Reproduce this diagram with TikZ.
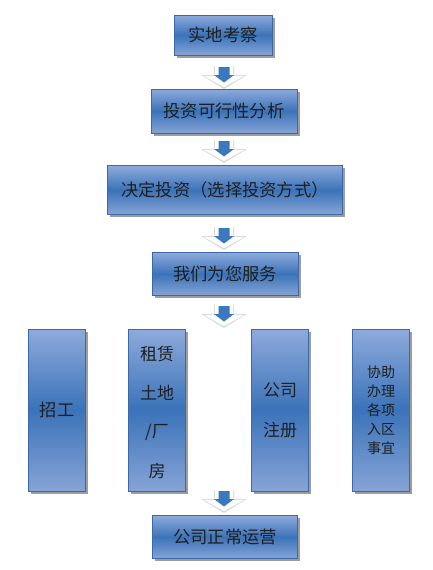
\documentclass[tikz,border=0pt]{standalone}
\usepackage{fontspec}
\setmainfont{Noto Sans CJK SC}
\usetikzlibrary{shadows}
\definecolor{boxtop}{HTML}{8EAADC}
\definecolor{boxmid}{HTML}{3B73B9}
\definecolor{boxbot}{HTML}{86A4D6}
\definecolor{boxline}{HTML}{3A68A8}
\definecolor{arrblue}{HTML}{3A78C0}
\definecolor{arrgray}{HTML}{C8CCD2}
\tikzset{
  flowbox/.style={draw=boxline, line width=0.8pt, top color=boxtop, bottom color=boxbot, middle color=boxmid,
    drop shadow={shadow xshift=2.5pt, shadow yshift=-2.5pt, opacity=0.55, fill=black!70},
    inner sep=0pt, font=\fontsize{17.3}{19}\selectfont, text=black!88},
  tallbox/.style={flowbox, minimum width=57pt, minimum height=162pt, align=center},
  talltext/.style={font=\fontsize{17}{19}\selectfont, text=black!88},
}
\newcommand{\downarr}[2]{%
  \begin{scope}[shift={(#1,#2)}]
    \fill[arrgray!70] (-10,0) -- (10,0) -- (10,9) -- (23,9) -- (0,23) -- (-23,9) -- (-10,9) -- cycle;
    \fill[white] (-9,0) -- (9,0) -- (9,10) -- (20,10) -- (0,21) -- (-20,10) -- (-9,10) -- cycle;
    \fill[arrblue] (-5.5,1) -- (5.5,1) -- (5.5,9) -- (10,9) -- (0,16.5) -- (-10,9) -- (-5.5,9) -- cycle;
  \end{scope}}
\begin{document}
\begin{tikzpicture}[x=1pt,y=-1pt]
\useasboundingbox (0,0) rectangle (433,570);
\node[flowbox, minimum width=98pt, minimum height=40pt] (b1) at (223,35) {实地考察};
\node[flowbox, minimum width=146pt, minimum height=44pt] (b2) at (224,111) {投资可行性分析};
\node[flowbox, minimum width=235pt, minimum height=49pt] (b3) at (225,190) {决定投资（选择投资方式）};
\node[flowbox, minimum width=146pt, minimum height=43pt] (b4) at (225,274) {我们为您服务};
\node[tallbox] (t1) at (57,410) {招工};
\node[tallbox] (t2) at (157,410) {};
\node[talltext] (t2a) at (157,354) {租赁};
\node[talltext] (t2b) at (157,393) {土地};
\node[talltext] (t2c) at (157,432) {/厂};
\node[talltext] (t2d) at (157,471) {房};
\node[tallbox] (t3) at (280,410) {};
\node[talltext] (t3a) at (280,390) {公司};
\node[talltext] (t3b) at (280,430) {注册};
\node[tallbox, font=\fontsize{14}{19}\selectfont] (t4) at (381,410) {协助\\办理\\各项\\入区\\事宜};
\node[flowbox, minimum width=145pt, minimum height=43pt] (b5) at (225,537) {公司正常运营};
\downarr{224}{66}
\downarr{224}{140}
\downarr{224}{227}
\downarr{224}{305}
\downarr{224}{490}
\end{tikzpicture}
\end{document}
